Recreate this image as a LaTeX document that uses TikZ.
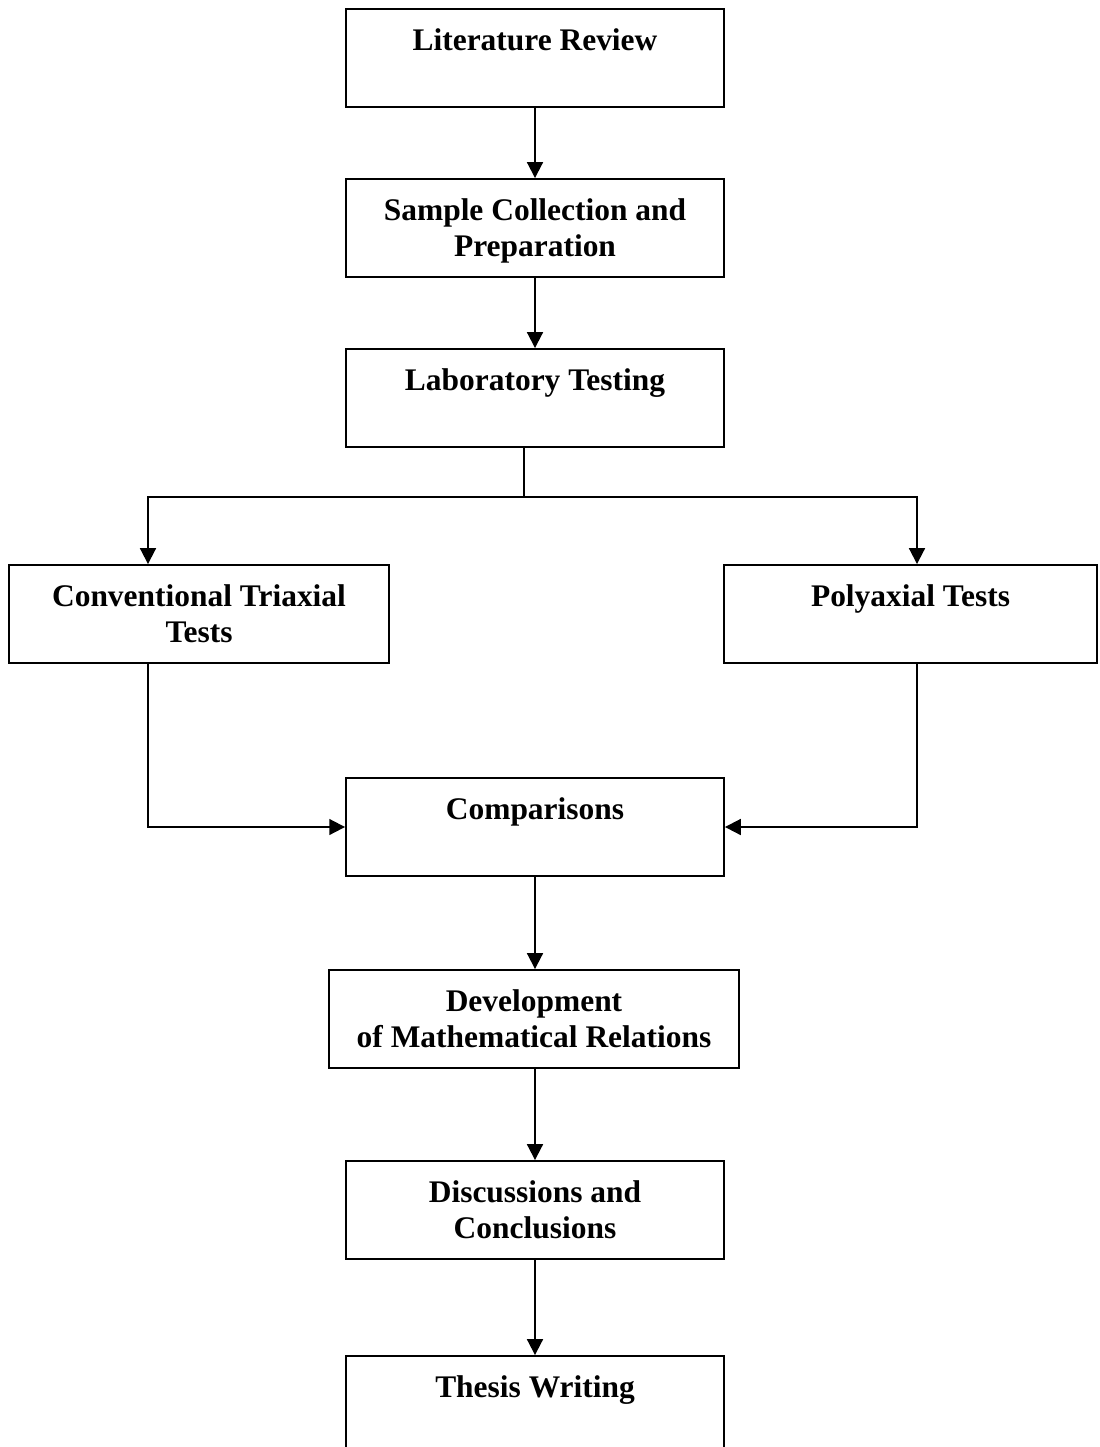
\documentclass[tikz,border=0pt]{standalone}
\usepackage{fontspec}
\setmainfont{Liberation Serif}
\usetikzlibrary{positioning,arrows.meta}

\tikzstyle{stepbox}=[draw, rectangle, line width=1.1pt, inner sep=0, minimum width=7.56cm, minimum height=1.96cm]
\tikzstyle{steptext}=[inner sep=0, align=center, font=\bfseries\fontsize{17.9}{20.4}\selectfont]
\tikzstyle{flow}=[line width=1.1pt, -{Triangle[length=9pt, width=9pt]}]
\tikzstyle{plain}=[line width=1.1pt]

\begin{document}
\begin{tikzpicture}[x=0.02cm, y=-0.02cm]
  \useasboundingbox (0,0) rectangle (1099,1447);
  % boxes
  \node[stepbox] (lit) at (535,58) {};
  \node[stepbox] (samp) at (535,228) {};
  \node[stepbox] (lab) at (535,398) {};
  \node[stepbox, minimum width=7.6cm] (conv) at (199,614) {};
  \node[stepbox, minimum width=7.46cm] (poly) at (910.5,614) {};
  \node[stepbox] (comp) at (535,827) {};
  \node[stepbox, minimum width=8.2cm] (dev) at (534,1019) {};
  \node[stepbox] (disc) at (535,1210) {};
  \node[stepbox] (thes) at (535,1405) {};

  % texts
  \node[steptext, below=0.4cm of lit.north] (litT) {Literature Review};
  \node[steptext, below=0.4cm of samp.north] (sampT) {Sample Collection and\\Preparation};
  \node[steptext, below=0.4cm of lab.north] (labT) {Laboratory Testing};
  \node[steptext, below=0.4cm of conv.north] (convT) {Conventional Triaxial\\Tests};
  \node[steptext, below=0.4cm of poly.north] (polyT) {Polyaxial Tests};
  \node[steptext, below=0.4cm of comp.north] (compT) {Comparisons};
  \node[steptext, below=0.4cm of dev.north] (devT) {Development\\of Mathematical Relations};
  \node[steptext, below=0.4cm of disc.north] (discT) {Discussions and\\Conclusions};
  \node[steptext, below=0.4cm of thes.north] (thesT) {Thesis Writing};

  \coordinate (split) at (524,497);
  \coordinate (lefttrack) at (148,497);
  \coordinate (righttrack) at (917,497);

  \draw[flow] (lit) -- (samp);
  \draw[flow] (samp) -- (lab);
  \draw[plain] (lab.south -| split) -- (split);
  \draw[flow] (split) -| (conv.north -| lefttrack);
  \draw[flow] (split) -| (poly.north -| righttrack);
  \draw[flow] (conv.south -| lefttrack) |- (comp.west);
  \draw[flow] (poly.south -| righttrack) |- (comp.east);
  \draw[flow] (comp) -- (comp |- dev.north);
  \draw[flow] (dev.south -| disc) -- (disc);
  \draw[flow] (disc) -- (thes);
\end{tikzpicture}
\end{document}
